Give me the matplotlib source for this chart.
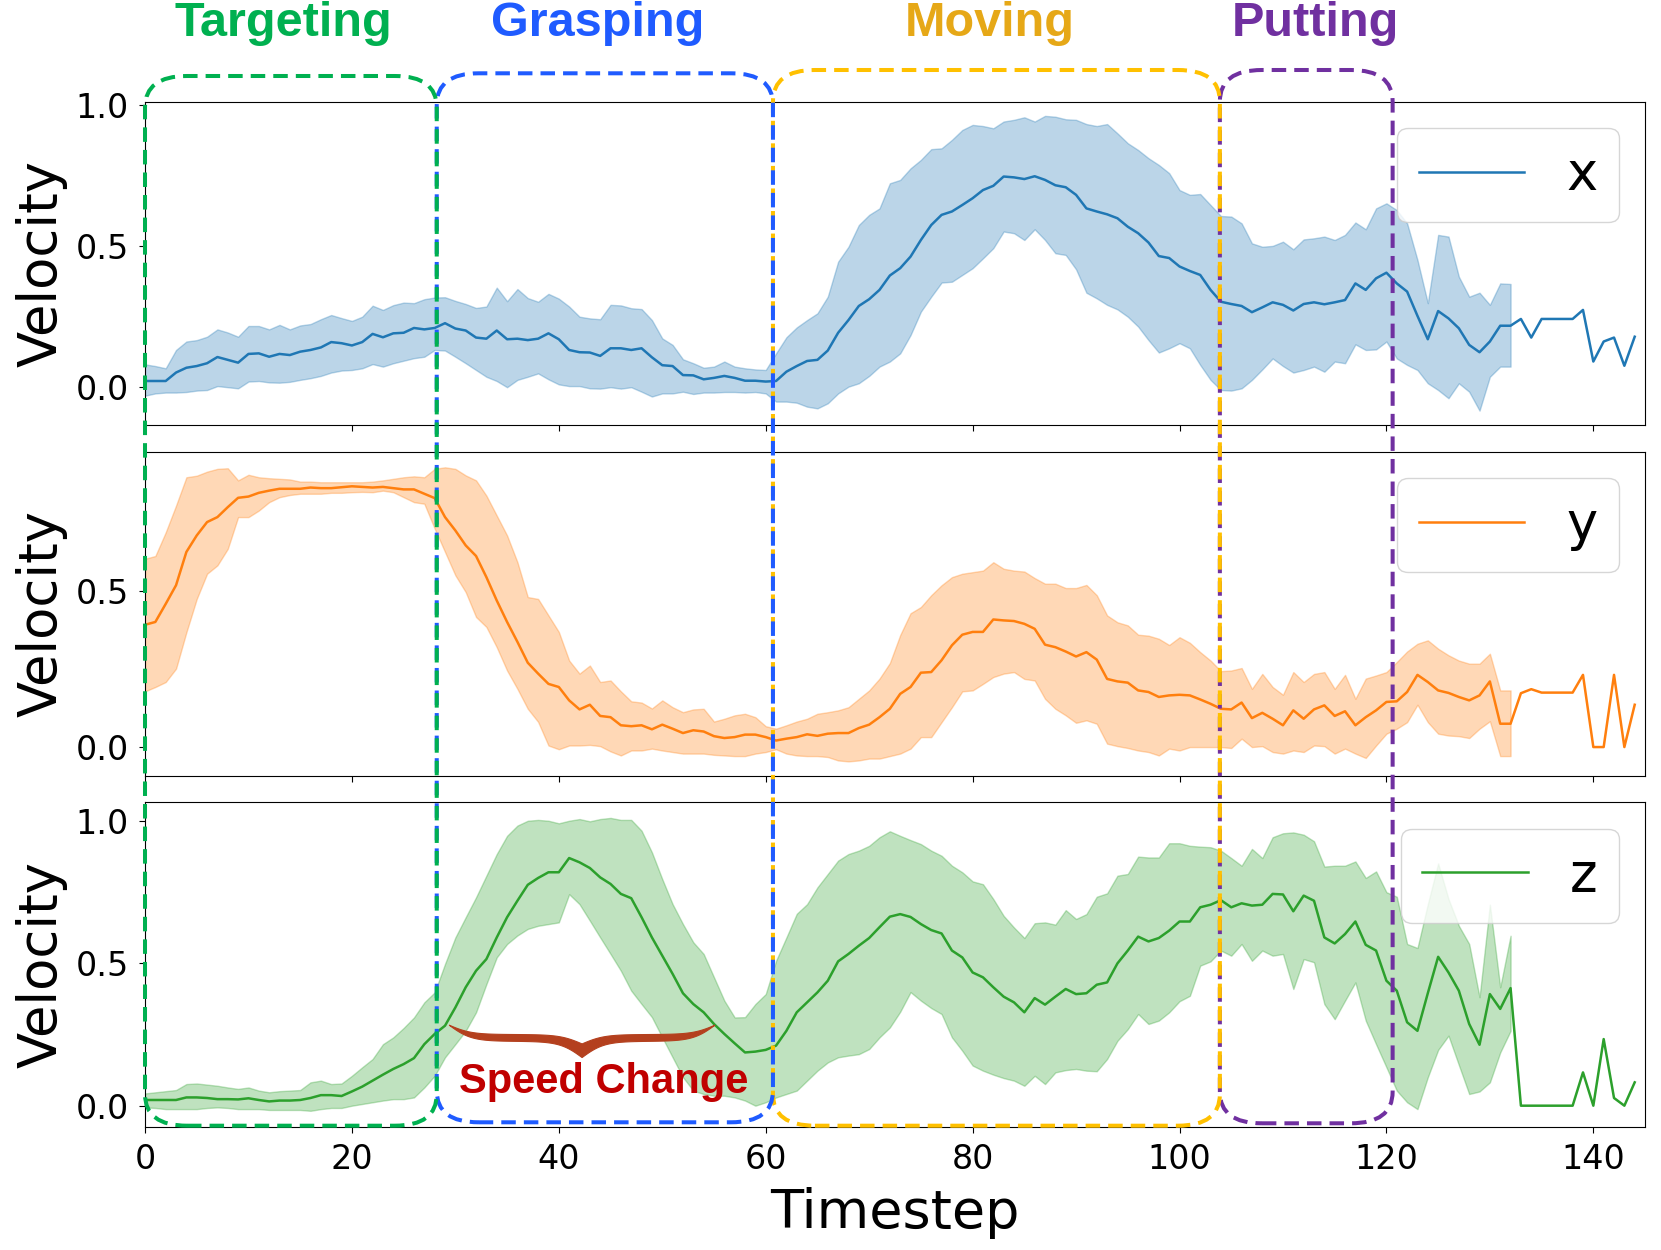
import numpy as np
import matplotlib
matplotlib.use("Agg")
import matplotlib.pyplot as plt
from matplotlib.patches import FancyBboxPatch, Polygon
from matplotlib.transforms import IdentityTransform

# ---------------- data ----------------
vx_mean = [0.020, 0.020, 0.020, 0.050, 0.067, 0.073, 0.083, 0.105, 0.095, 0.085,
           0.116, 0.118, 0.106, 0.116, 0.112, 0.124, 0.130, 0.139, 0.158, 0.154,
           0.146, 0.158, 0.187, 0.175, 0.189, 0.191, 0.208, 0.203, 0.208, 0.225,
           0.206, 0.199, 0.174, 0.170, 0.199, 0.168, 0.170, 0.165, 0.170, 0.189,
           0.168, 0.130, 0.122, 0.121, 0.109, 0.136, 0.136, 0.130, 0.136, 0.104,
           0.076, 0.073, 0.041, 0.040, 0.026, 0.031, 0.038, 0.031, 0.021, 0.021,
           0.018, 0.020, 0.053, 0.073, 0.091, 0.095, 0.128, 0.191, 0.236, 0.286,
           0.310, 0.343, 0.394, 0.420, 0.461, 0.520, 0.573, 0.609, 0.621, 0.644,
           0.668, 0.697, 0.712, 0.745, 0.742, 0.736, 0.746, 0.733, 0.714, 0.707,
           0.680, 0.632, 0.621, 0.611, 0.597, 0.567, 0.544, 0.511, 0.463, 0.456,
           0.426, 0.410, 0.396, 0.343, 0.301, 0.293, 0.286, 0.264, 0.281, 0.299,
           0.290, 0.270, 0.293, 0.299, 0.292, 0.299, 0.307, 0.366, 0.343, 0.384,
           0.404, 0.366, 0.337, 0.251, 0.168, 0.268, 0.242, 0.207, 0.148, 0.122,
           0.160, 0.216, 0.216, 0.240, 0.174, 0.240, 0.240, 0.240, 0.240, 0.272,
           0.089, 0.160, 0.174, 0.074, 0.177]
vx_upper = [0.079, 0.073, 0.065, 0.130, 0.160, 0.165, 0.177, 0.203, 0.192, 0.177,
            0.215, 0.215, 0.203, 0.219, 0.203, 0.217, 0.222, 0.239, 0.254, 0.243,
            0.233, 0.248, 0.287, 0.272, 0.289, 0.298, 0.296, 0.310, 0.316, 0.317,
            0.304, 0.293, 0.279, 0.284, 0.351, 0.303, 0.346, 0.314, 0.301, 0.329,
            0.312, 0.284, 0.248, 0.242, 0.239, 0.290, 0.288, 0.278, 0.275, 0.236,
            0.171, 0.148, 0.097, 0.083, 0.067, 0.071, 0.089, 0.071, 0.065, 0.061,
            0.059, 0.118, 0.175, 0.210, 0.236, 0.260, 0.319, 0.443, 0.496, 0.573,
            0.609, 0.632, 0.721, 0.733, 0.774, 0.804, 0.842, 0.845, 0.875, 0.910,
            0.928, 0.924, 0.916, 0.940, 0.946, 0.955, 0.940, 0.960, 0.957, 0.948,
            0.946, 0.931, 0.924, 0.931, 0.898, 0.863, 0.839, 0.810, 0.786, 0.757,
            0.697, 0.680, 0.683, 0.644, 0.605, 0.603, 0.579, 0.508, 0.496, 0.499,
            0.514, 0.487, 0.522, 0.526, 0.532, 0.520, 0.538, 0.582, 0.558, 0.632,
            0.650, 0.626, 0.579, 0.449, 0.296, 0.538, 0.532, 0.390, 0.319, 0.333,
            0.290, 0.366, 0.364]
vx_lower = [-0.032, -0.024, -0.021, -0.021, -0.019, -0.014, -0.012, 0.002, -0.002, -0.006,
            0.018, 0.020, 0.015, 0.014, 0.017, 0.024, 0.030, 0.038, 0.050, 0.057,
            0.059, 0.065, 0.080, 0.071, 0.083, 0.092, 0.101, 0.106, 0.130, 0.128,
            0.106, 0.083, 0.059, 0.035, 0.020, -0.002, 0.024, 0.035, 0.047, 0.026,
            0.008, 0.002, 0.002, -0.006, -0.007, -0.002, -0.007, -0.002, -0.018, -0.035,
            -0.024, -0.024, -0.018, -0.026, -0.021, -0.021, -0.019, -0.019, -0.021, -0.019,
            -0.024, -0.053, -0.053, -0.057, -0.071, -0.077, -0.059, -0.024, 0.000, 0.012,
            0.038, 0.071, 0.089, 0.118, 0.183, 0.266, 0.319, 0.369, 0.372, 0.396,
            0.420, 0.455, 0.491, 0.550, 0.544, 0.520, 0.558, 0.520, 0.473, 0.467,
            0.416, 0.333, 0.313, 0.290, 0.274, 0.248, 0.213, 0.165, 0.121, 0.136,
            0.154, 0.136, 0.077, 0.024, -0.012, -0.014, -0.006, 0.024, 0.061, 0.100,
            0.073, 0.050, 0.059, 0.071, 0.053, 0.089, 0.083, 0.150, 0.130, 0.132,
            0.160, 0.100, 0.077, 0.059, 0.012, -0.012, -0.041, 0.012, -0.018, -0.085,
            0.035, 0.071, 0.071]

vy_mean = [0.393, 0.402, 0.460, 0.520, 0.627, 0.680, 0.723, 0.739, 0.771, 0.801,
           0.805, 0.817, 0.824, 0.830, 0.830, 0.830, 0.834, 0.832, 0.832, 0.835,
           0.838, 0.836, 0.834, 0.836, 0.832, 0.828, 0.828, 0.814, 0.800, 0.739,
           0.696, 0.648, 0.614, 0.546, 0.471, 0.402, 0.338, 0.271, 0.236, 0.203,
           0.193, 0.150, 0.121, 0.136, 0.100, 0.096, 0.070, 0.067, 0.070, 0.057,
           0.072, 0.059, 0.045, 0.054, 0.050, 0.035, 0.029, 0.032, 0.040, 0.040,
           0.032, 0.021, 0.027, 0.032, 0.041, 0.036, 0.043, 0.045, 0.045, 0.061,
           0.072, 0.096, 0.123, 0.171, 0.193, 0.239, 0.241, 0.279, 0.327, 0.361,
           0.370, 0.370, 0.410, 0.407, 0.405, 0.396, 0.380, 0.329, 0.321, 0.307,
           0.291, 0.305, 0.281, 0.219, 0.211, 0.207, 0.182, 0.177, 0.161, 0.166,
           0.168, 0.166, 0.153, 0.139, 0.123, 0.121, 0.143, 0.093, 0.110, 0.091,
           0.070, 0.118, 0.091, 0.121, 0.134, 0.100, 0.115, 0.070, 0.096, 0.118,
           0.145, 0.147, 0.177, 0.232, 0.209, 0.182, 0.174, 0.161, 0.150, 0.166,
           0.211, 0.075, 0.075, 0.173, 0.186, 0.175, 0.175, 0.175, 0.175, 0.232,
           0.000, 0.000, 0.232, 0.000, 0.136]
vy_upper = [0.605, 0.614, 0.690, 0.776, 0.867, 0.872, 0.885, 0.894, 0.896, 0.857,
            0.875, 0.867, 0.864, 0.862, 0.860, 0.853, 0.853, 0.851, 0.851, 0.851,
            0.851, 0.851, 0.853, 0.857, 0.862, 0.867, 0.870, 0.867, 0.894, 0.899,
            0.894, 0.873, 0.857, 0.808, 0.744, 0.680, 0.594, 0.482, 0.476, 0.423,
            0.370, 0.278, 0.236, 0.262, 0.209, 0.214, 0.179, 0.147, 0.143, 0.124,
            0.150, 0.128, 0.112, 0.121, 0.123, 0.082, 0.091, 0.102, 0.107, 0.096,
            0.067, 0.059, 0.070, 0.082, 0.091, 0.107, 0.112, 0.118, 0.128, 0.155,
            0.182, 0.220, 0.270, 0.360, 0.430, 0.450, 0.488, 0.520, 0.546, 0.557,
            0.562, 0.567, 0.594, 0.573, 0.567, 0.564, 0.543, 0.525, 0.525, 0.511,
            0.511, 0.521, 0.488, 0.423, 0.401, 0.391, 0.361, 0.358, 0.348, 0.328,
            0.353, 0.335, 0.305, 0.278, 0.244, 0.246, 0.254, 0.187, 0.235, 0.193,
            0.168, 0.241, 0.209, 0.235, 0.241, 0.187, 0.232, 0.155, 0.220, 0.230,
            0.241, 0.273, 0.307, 0.332, 0.343, 0.316, 0.295, 0.278, 0.268, 0.268,
            0.300, 0.182, 0.182]
vy_lower = [0.179, 0.193, 0.209, 0.252, 0.369, 0.476, 0.557, 0.584, 0.637, 0.739,
            0.739, 0.760, 0.787, 0.803, 0.810, 0.814, 0.814, 0.814, 0.817, 0.817,
            0.819, 0.820, 0.819, 0.824, 0.819, 0.803, 0.787, 0.782, 0.702, 0.627,
            0.552, 0.498, 0.418, 0.386, 0.321, 0.246, 0.187, 0.123, 0.081, 0.005,
            -0.007, 0.005, 0.005, 0.007, 0.003, -0.014, -0.027, -0.011, -0.011, -0.005,
            -0.011, -0.016, -0.021, -0.021, -0.021, -0.025, -0.027, -0.029, -0.029, -0.021,
            -0.016, -0.007, -0.021, -0.027, -0.029, -0.029, -0.032, -0.043, -0.046, -0.043,
            -0.037, -0.037, -0.029, -0.021, -0.005, 0.032, 0.032, 0.080, 0.128, 0.179,
            0.182, 0.203, 0.225, 0.236, 0.241, 0.219, 0.214, 0.155, 0.123, 0.102,
            0.078, 0.086, 0.075, 0.011, 0.003, -0.003, -0.011, -0.016, -0.027, -0.005,
            -0.011, 0.000, 0.000, 0.000, 0.000, -0.003, 0.027, 0.000, 0.003, -0.016,
            -0.021, -0.011, -0.016, 0.005, 0.003, -0.021, -0.005, -0.021, -0.035, 0.005,
            0.043, 0.059, 0.080, 0.136, 0.080, 0.043, 0.037, 0.035, 0.029, 0.059,
            0.083, -0.029, -0.029]

vz_mean = [0.020, 0.020, 0.020, 0.020, 0.029, 0.029, 0.027, 0.023, 0.023, 0.022,
           0.026, 0.020, 0.015, 0.018, 0.018, 0.020, 0.027, 0.037, 0.037, 0.034,
           0.050, 0.067, 0.088, 0.109, 0.129, 0.146, 0.167, 0.216, 0.252, 0.281,
           0.345, 0.416, 0.474, 0.515, 0.591, 0.662, 0.720, 0.776, 0.800, 0.820,
           0.820, 0.870, 0.855, 0.835, 0.802, 0.779, 0.744, 0.729, 0.662, 0.591,
           0.527, 0.463, 0.395, 0.357, 0.328, 0.287, 0.252, 0.219, 0.187, 0.190,
           0.196, 0.211, 0.263, 0.328, 0.363, 0.398, 0.439, 0.507, 0.533, 0.562,
           0.589, 0.627, 0.664, 0.673, 0.663, 0.638, 0.617, 0.605, 0.545, 0.521,
           0.468, 0.451, 0.416, 0.383, 0.363, 0.328, 0.378, 0.355, 0.383, 0.410,
           0.392, 0.395, 0.425, 0.433, 0.500, 0.545, 0.594, 0.577, 0.589, 0.615,
           0.647, 0.647, 0.697, 0.706, 0.722, 0.697, 0.711, 0.703, 0.706, 0.744,
           0.742, 0.683, 0.738, 0.720, 0.591, 0.570, 0.603, 0.647, 0.565, 0.545,
           0.439, 0.404, 0.293, 0.263, 0.395, 0.523, 0.468, 0.404, 0.287, 0.214,
           0.392, 0.340, 0.413, 0.000, 0.000, 0.000, 0.000, 0.000, 0.000, 0.117,
           0.000, 0.234, 0.027, 0.000, 0.082]
vz_upper = [0.043, 0.047, 0.051, 0.055, 0.076, 0.078, 0.074, 0.070, 0.064, 0.059,
            0.064, 0.053, 0.047, 0.051, 0.053, 0.055, 0.082, 0.088, 0.076, 0.078,
            0.105, 0.135, 0.164, 0.216, 0.240, 0.273, 0.310, 0.363, 0.398, 0.498,
            0.591, 0.662, 0.732, 0.808, 0.884, 0.948, 0.984, 1.001, 1.004, 1.001,
            0.992, 1.001, 1.007, 0.999, 1.007, 1.011, 1.004, 1.004, 0.966, 0.890,
            0.796, 0.708, 0.638, 0.574, 0.533, 0.451, 0.369, 0.310, 0.311, 0.357,
            0.392, 0.509, 0.591, 0.674, 0.708, 0.767, 0.814, 0.861, 0.884, 0.896,
            0.913, 0.943, 0.964, 0.948, 0.933, 0.919, 0.896, 0.878, 0.843, 0.820,
            0.788, 0.778, 0.726, 0.667, 0.626, 0.589, 0.641, 0.644, 0.636, 0.687,
            0.656, 0.673, 0.734, 0.746, 0.808, 0.814, 0.875, 0.872, 0.872, 0.922,
            0.922, 0.913, 0.910, 0.908, 0.896, 0.870, 0.843, 0.902, 0.870, 0.943,
            0.957, 0.960, 0.952, 0.929, 0.840, 0.843, 0.843, 0.858, 0.800, 0.823,
            0.750, 0.734, 0.568, 0.554, 0.708, 0.851, 0.726, 0.632, 0.568, 0.381,
            0.706, 0.416, 0.597]
vz_lower = [-0.006, -0.008, -0.012, -0.012, -0.012, -0.012, -0.008, -0.006, -0.008, -0.012,
            -0.012, -0.012, -0.015, -0.015, -0.015, -0.015, -0.018, -0.012, -0.008, -0.008,
            0.000, 0.006, 0.012, 0.018, 0.023, 0.023, 0.029, 0.064, 0.105, 0.170,
            0.216, 0.263, 0.328, 0.427, 0.521, 0.568, 0.598, 0.621, 0.632, 0.638,
            0.644, 0.743, 0.708, 0.650, 0.591, 0.533, 0.474, 0.404, 0.357, 0.311,
            0.240, 0.170, 0.100, 0.053, 0.041, 0.035, 0.035, 0.029, 0.018, 0.000,
            0.012, 0.029, 0.041, 0.053, 0.088, 0.123, 0.152, 0.170, 0.176, 0.181,
            0.199, 0.240, 0.275, 0.330, 0.399, 0.369, 0.343, 0.322, 0.240, 0.193,
            0.141, 0.123, 0.109, 0.097, 0.088, 0.070, 0.105, 0.076, 0.117, 0.125,
            0.129, 0.123, 0.121, 0.164, 0.228, 0.269, 0.322, 0.287, 0.299, 0.328,
            0.367, 0.386, 0.492, 0.507, 0.545, 0.527, 0.568, 0.509, 0.545, 0.527,
            0.533, 0.410, 0.515, 0.504, 0.357, 0.304, 0.369, 0.433, 0.299, 0.216,
            0.135, 0.053, 0.012, -0.012, 0.100, 0.196, 0.246, 0.143, 0.041, 0.050,
            0.082, 0.187, 0.263]

series_labels = ["x", "y", "z"]
y_ticks = [0.0, 0.5, 1.0]
x_ticks = [0, 20, 40, 60, 80, 100, 120, 140]

phase_names = ["Targeting", "Grasping", "Moving", "Putting"]
phase_bounds = [0.0, 28.2, 60.7, 103.9, 120.6]
phase_box_colors = ["#00B050", "#1F5BFF", "#FFC000", "#7030A0"]
phase_text_colors = ["#00B050", "#1F5BFF", "#E6A817", "#7030A0"]
phase_title_x = [0.1704, 0.3600, 0.5960, 0.7917]

brace_span = (29.4, 55.1)
brace_level = 0.283
annot_text = "Speed Change"
annot_pos = (44.35, 0.045)

# ---------------- figure ----------------
W, H = 1661, 1250
fig = plt.figure(figsize=(W / 100, H / 100), dpi=100)

left, right = 0.0873, 0.9904
axes_rows = [(0.6600, 0.9188), (0.3792, 0.6386), (0.0986, 0.3582)]
ylims = [(-0.136, 1.011), (-0.093, 0.949), (-0.074, 1.066)]
colors = ["C0", "C1", "C2"]
means = [vx_mean, vy_mean, vz_mean]
uppers = [vx_upper, vy_upper, vz_upper]
lowers = [vx_lower, vy_lower, vz_lower]

axes = []
for i, (b, t) in enumerate(axes_rows):
    ax = fig.add_axes([left, b, right - left, t - b], sharex=axes[0] if axes else None)
    m = np.array(means[i])
    tm = np.arange(len(m))
    u = np.array(uppers[i])
    lo = np.array(lowers[i])
    tb = np.arange(len(u))
    ax.fill_between(tb, lo, u, color=colors[i], alpha=0.3)
    ax.plot(tm, m, color=colors[i], lw=1.8, label=series_labels[i])
    ax.set_xticks(x_ticks)
    ax.set_yticks(y_ticks)
    ax.set_xlim(0, 145)
    ax.set_ylim(*ylims[i])
    ax.tick_params(labelsize=24, pad=7, length=4.5)
    ax.set_ylabel("Velocity", fontsize=38, labelpad=6)
    ax.legend(loc="upper right", fontsize=38)
    if i < 2:
        ax.tick_params(labelbottom=False)
    axes.append(ax)

ax3 = axes[2]
ax3.set_xlabel("Timestep", fontsize=39, labelpad=8)

# ---------------- phase boxes ----------------
box_tops = [1174, 1176.7, 1180, 1180]       # pixels from bottom
box_bottoms = [124.3, 127.7, 124.3, 126.7]
def tx(t):
    return ax3.transData.transform((t, 0))[0]

for k in [3, 2, 1, 0]:
    x0 = tx(phase_bounds[k])
    x1 = tx(phase_bounds[k + 1])
    y0 = box_bottoms[k]
    y1 = box_tops[k]
    patch = FancyBboxPatch((x0, y0), x1 - x0, y1 - y0,
                           boxstyle="round,pad=0,rounding_size=42",
                           mutation_aspect=0.75,
                           transform=IdentityTransform(), fill=False,
                           edgecolor=phase_box_colors[k], lw=2.9,
                           linestyle=(0, (3.6, 2.0)), zorder=5)
    fig.add_artist(patch)

for k, name in enumerate(phase_names):
    fig.text(phase_title_x[k], 0.9712, name, ha="center", va="baseline",
             fontsize=35, fontweight="bold", color=phase_text_colors[k],
             family=["Liberation Sans", "DejaVu Sans"])

# ---------------- curly brace + annotation ----------------
def brace_profile(n, beta):
    s = np.linspace(0, 1, n)
    y = 1 / (1 + np.exp(-beta * s)) + 1 / (1 + np.exp(-beta * (s - 1))) - 0.5
    y = (y - y[0]) / (y[-1] - y[0])
    return s, y

s, prof = brace_profile(200, 12)
bx0, bx1 = brace_span
half = (bx1 - bx0) / 2
xs = np.concatenate([bx0 + s * half, bx1 - s[::-1] * half])
pf = np.concatenate([prof, prof[::-1]])
up_edge = brace_level - 0.066 * pf
lo_edge = brace_level - 0.114 * pf
poly_x = np.concatenate([xs, xs[::-1]])
poly_y = np.concatenate([up_edge, lo_edge[::-1]])
ax3.add_patch(Polygon(np.column_stack([poly_x, poly_y]), closed=True,
                      facecolor="#B4401E", edgecolor="#B4401E", lw=0.8, zorder=4))
ax3.text(annot_pos[0], annot_pos[1], annot_text, ha="center", va="baseline",
         fontsize=30, fontweight="bold", color="#C00000",
         family=["Liberation Sans", "DejaVu Sans"], zorder=6)

fig.savefig("out.png", dpi=100)
